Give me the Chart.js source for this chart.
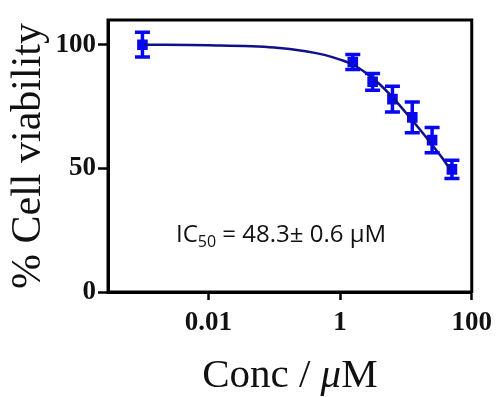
<!DOCTYPE html>
<html>
<head>
<meta charset="utf-8">
<script src="https://cdn.jsdelivr.net/npm/chart.js@4.4.1/dist/chart.umd.min.js"></script>
<style>
  body { margin: 0; background: #fff; }
  canvas { display: block; }
</style>
</head>
<body>
<canvas id="viabilityChart" width="499" height="397"></canvas>
<script>
// measured points
const conc = [0.001, 1.5625, 3.125, 6.25, 12.5, 25, 50];
const viability = [100, 93, 85, 78, 70.6, 61.4, 49.6];
const viabilityErr = [5, 3, 3.4, 5.2, 6.2, 5.1, 3.7];

// fitted curve
const curveConc = [0.001, 0.01, 0.1, 0.3, 0.6, 1, 1.56, 2.5, 4, 6.25, 10, 16, 25, 35, 50];
const curveViability = [100, 99.8, 98.9, 97.4, 95.8, 94, 92, 88.5, 84, 78.8, 72.5, 66, 59.5, 54.5, 48.5];

const xTicks = [0.01, 1, 100];
const yTicks = [0, 50, 100];

const pointColor = "#0808f0";
const curveColor = "#10108a";

// error bars, box frame, x title with italic mu, IC50 note
const extras = {
  id: "extras",
  afterDatasetsDraw(chart) {
    const ctx = chart.ctx;
    const yScale = chart.scales.y;
    const meta = chart.getDatasetMeta(1);
    ctx.save();
    ctx.strokeStyle = pointColor;
    ctx.lineWidth = 3.5;
    meta.data.forEach((pt, i) => {
      const top = yScale.getPixelForValue(viability[i] + viabilityErr[i]);
      const bot = yScale.getPixelForValue(viability[i] - viabilityErr[i]);
      ctx.beginPath();
      ctx.moveTo(pt.x, top);
      ctx.lineTo(pt.x, bot);
      ctx.moveTo(pt.x - 7.5, top);
      ctx.lineTo(pt.x + 7.5, top);
      ctx.moveTo(pt.x - 7.5, bot);
      ctx.lineTo(pt.x + 7.5, bot);
      ctx.stroke();
    });

    const a = chart.chartArea;
    ctx.strokeStyle = "#000";
    ctx.lineWidth = 3;
    ctx.strokeRect(a.left, a.top, a.right - a.left, a.bottom - a.top);

    // IC50 label
    ctx.fillStyle = "#111";
    ctx.textBaseline = "alphabetic";
    ctx.textAlign = "left";
    ctx.font = "24px 'Open Sans'";
    let x = 176;
    let y = 242;
    ctx.fillText("IC", x, y);
    x += ctx.measureText("IC").width;
    ctx.font = "16px 'Open Sans'";
    ctx.fillText("50", x, y + 5);
    x += ctx.measureText("50").width;
    ctx.font = "24px 'Open Sans'";
    ctx.fillText(" = 48.3\u00b1 0.6 \u03bcM", x, y);

    // x title: Conc / μM (mu in italic)
    const parts = [
      ["Conc / ", "41px 'Liberation Serif'"],
      ["\u03bc", "italic 41px 'Liberation Serif'"],
      ["M", "41px 'Liberation Serif'"]
    ];
    let total = 0;
    parts.forEach(p => { ctx.font = p[1]; total += ctx.measureText(p[0]).width; });
    x = (a.left + a.right) / 2 - total / 2;
    y = 387;
    parts.forEach(p => {
      ctx.font = p[1];
      ctx.fillText(p[0], x, y);
      x += ctx.measureText(p[0]).width;
    });
    ctx.restore();
  }
};

const viabilityChart = new Chart(document.getElementById("viabilityChart"), {
  type: "scatter",
  data: {
    datasets: [{
      type: "line",
      data: curveConc.map((c, i) => ({ x: c, y: curveViability[i] })),
      borderColor: curveColor,
      borderWidth: 2.5,
      pointRadius: 0,
      cubicInterpolationMode: "monotone",
      fill: false
    }, {
      data: conc.map((c, i) => ({ x: c, y: viability[i] })),
      pointStyle: "rect",
      pointRadius: 7.5,
      backgroundColor: pointColor,
      borderColor: pointColor,
      borderWidth: 0,
      showLine: false
    }]
  },
  plugins: [extras],
  options: {
    responsive: false,
    animation: false,
    layout: { padding: { top: 20, right: 21, left: 0, bottom: 0 } },
    plugins: {
      legend: { display: false },
      tooltip: { enabled: false }
    },
    scales: {
      x: {
        type: "logarithmic",
        min: 0.000328,
        max: 100,
        afterBuildTicks: (scale) => { scale.ticks = xTicks.map(v => ({ value: v })); },
        afterFit: (scale) => { scale.height = 105; },
        grid: { drawOnChartArea: false, drawTicks: true, tickLength: 8, tickWidth: 2.5, color: "#000" },
        border: { display: true, width: 3, color: "#000" },
        ticks: {
          color: "#111",
          padding: 7,
          maxRotation: 0,
          font: { family: "'Liberation Serif'", size: 27, weight: "bold" },
          callback: (v) => String(v)
        },
        title: { display: false }
      },
      y: {
        min: 0,
        max: 110,
        afterBuildTicks: (scale) => { scale.ticks = yTicks.map(v => ({ value: v })); },
        afterFit: (scale) => { scale.width = 108; },
        grid: { drawOnChartArea: false, drawTicks: true, tickLength: 10, tickWidth: 2.5, color: "#000" },
        border: { display: true, width: 3, color: "#000" },
        ticks: {
          color: "#111",
          padding: 2,
          font: { family: "'Liberation Serif'", size: 27, weight: "bold" }
        },
        title: {
          display: true,
          text: "% Cell viability",
          color: "#111",
          padding: { top: 4, bottom: 0 },
          font: { family: "'Liberation Serif'", size: 42 }
        }
      }
    }
  }
});
</script>
</body>
</html>
